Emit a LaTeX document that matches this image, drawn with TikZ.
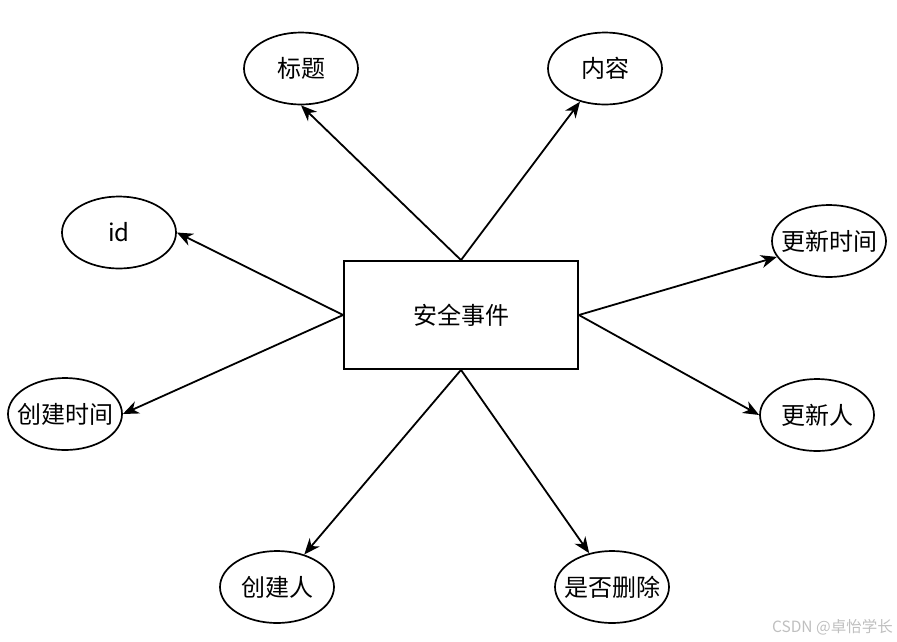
\documentclass[tikz,border=0pt]{standalone}
\usepackage{fontspec}
\setmainfont{Noto Sans CJK SC}
\usetikzlibrary{shapes.geometric,arrows.meta}
\newcommand{\fixw}[1]{\makebox[0pt][c]{#1}}
\begin{document}
\begin{tikzpicture}[x=1pt,y=-1pt,
  attr/.style={ellipse,draw,line width=1.7pt,minimum width=114pt,minimum height=72pt,inner sep=0pt,font=\fontsize{24}{26}\selectfont},
  entity/.style={rectangle,draw,line width=1.8pt,minimum width=234pt,minimum height=108pt,inner sep=0pt,font=\fontsize{24}{26}\selectfont},
  link/.style={line width=1.8pt,-{Stealth[length=16pt,width=13pt,inset=5pt]}}]
\useasboundingbox (0,0) rectangle (897,641);
\node[entity] (e) at (461,315) {安全事件};
\node[attr] (t) at (301,68.5) {\fixw{标题}};
\node[attr] (c) at (605,68.5) {\fixw{内容}};
\node[attr] (id) at (119,232.5) {\fixw{id}};
\node[attr] (ut) at (829,241) {\fixw{更新时间}};
\node[attr] (ct) at (65,414) {\fixw{创建时间}};
\node[attr] (up) at (817,415) {\fixw{更新人}};
\node[attr] (cp) at (277,587) {\fixw{创建人}};
\node[attr] (del) at (612,587) {\fixw{是否删除}};
\draw[link] (e.north) -- (t.south);
\draw[link] (e.north) -- (c.233);
\draw[link] (e.west) -- (id.east);
\draw[link] (e.west) -- (ct.east);
\draw[link] (e.east) -- (ut.197);
\draw[link] (e.east) -- (up.west);
\draw[link] (e.south) -- (cp.50);
\draw[link] (e.south) -- (del.124);
\node[anchor=east,text=black!25,font=\fontsize{15.5}{17}\selectfont,inner sep=0pt] (wm) at (893,627) {CSDN @卓怡学长};
\end{tikzpicture}
\end{document}
